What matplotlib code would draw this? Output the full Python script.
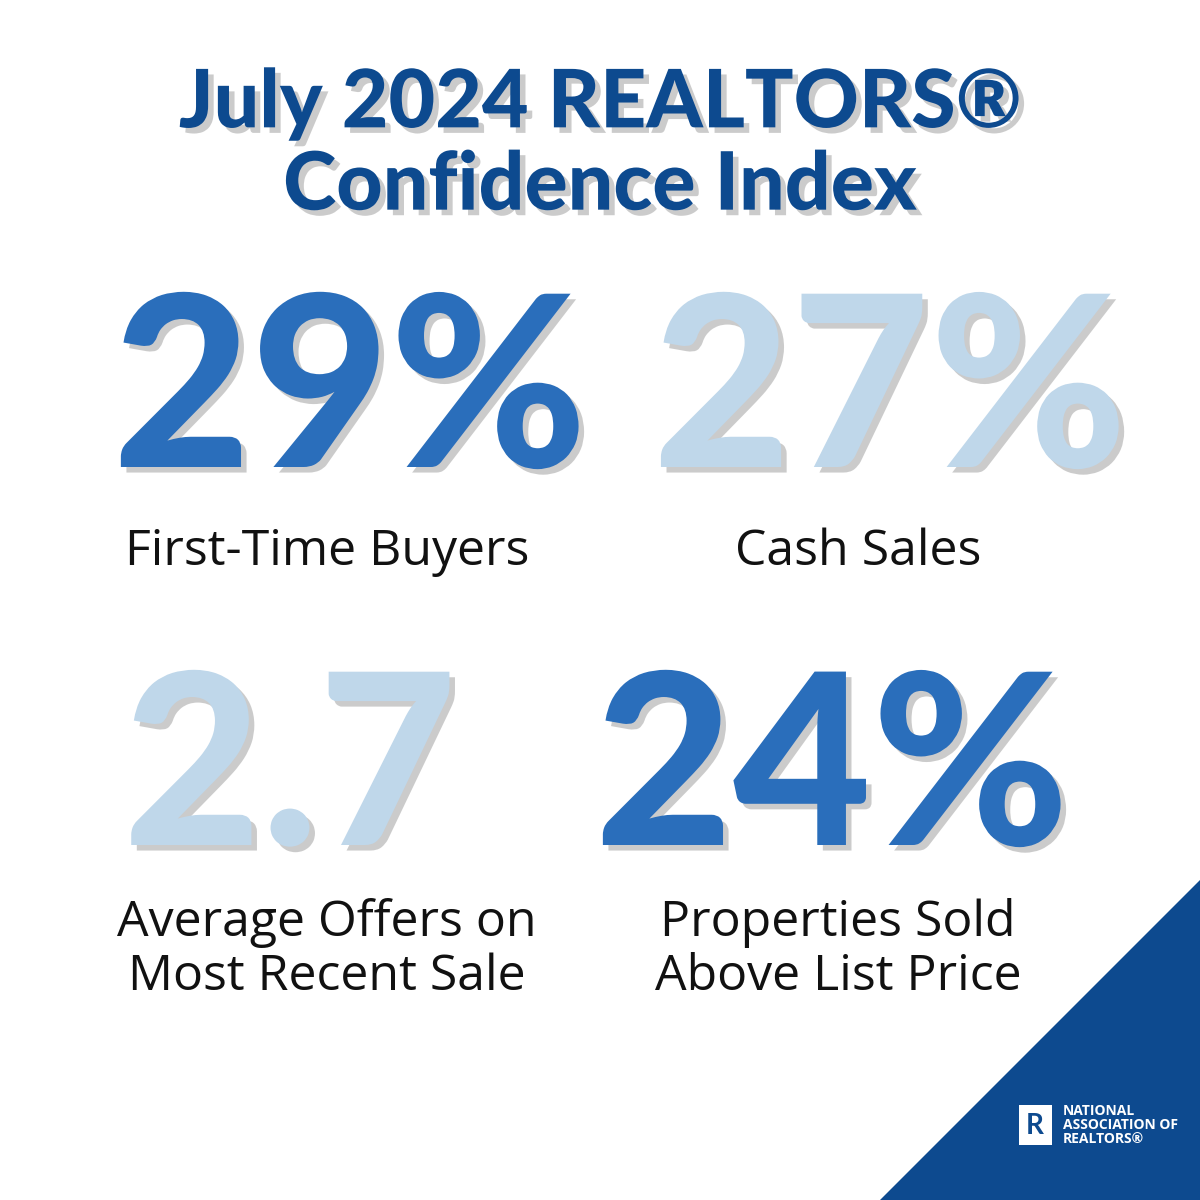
import matplotlib.pyplot as plt
from matplotlib.patches import Polygon, Rectangle
import matplotlib.patheffects as pe

# ====================== DATA ======================
title = "July 2024 REALTORS®\nConfidence Index"
stat_values = ["29%", "27%", "2.7", "24%"]
stat_labels = ["First-Time Buyers", "Cash Sales",
               "Average Offers on\nMost Recent Sale",
               "Properties Sold\nAbove List Price"]
stat_colors = ["#2a6ebb", "#bfd7ea", "#bfd7ea", "#2a6ebb"]
value_pos = [(350, 398), (890, 398), (290, 776), (832, 776)]
label_pos = [(327, 552), (858, 552), (327, 950), (838, 950)]

NAVY = "#0d4a8f"
shadow = [pe.SimplePatchShadow(offset=(4, -4), shadow_rgbFace="#999999", alpha=0.5), pe.Normal()]

fig = plt.figure(figsize=(12, 12), dpi=100)
ax = fig.add_axes([0, 0, 1, 1])
ax.set_xlim(0, 1200)
ax.set_ylim(1200, 0)
ax.axis("off")

# Title
ax.text(600, 145, title, ha="center", va="center", fontsize=58, fontweight="black",
        family="Lato", color=NAVY, linespacing=1.12, path_effects=shadow)

# Big numbers and labels
for val, lab, col, (vx, vy), (lx, ly) in zip(stat_values, stat_labels, stat_colors, value_pos, label_pos):
    ax.text(vx, vy, val, ha="center", va="center", fontsize=172, fontweight="black",
            family="Lato", color=col, path_effects=shadow)
    ax.text(lx, ly, lab, ha="center", va="center", fontsize=36, family="Open Sans",
            color="#111111", linespacing=1.1)

# Corner triangle and logo
ax.add_patch(Polygon([(1200, 880), (1200, 1200), (880, 1200)], closed=True, color=NAVY, zorder=1))
ax.add_patch(Rectangle((1019, 1105), 33, 40, facecolor="white", zorder=2))
ax.text(1035, 1126, "R", ha="center", va="center", fontsize=20, fontweight="bold",
        color=NAVY, family="Lato", zorder=3)
ax.text(1063, 1125, "NATIONAL\nASSOCIATION OF\nREALTORS®", ha="left", va="center",
        fontsize=10, fontweight="bold", color="white", family="Open Sans", linespacing=1.0, zorder=3)

fig.savefig("out.png", dpi=100)
